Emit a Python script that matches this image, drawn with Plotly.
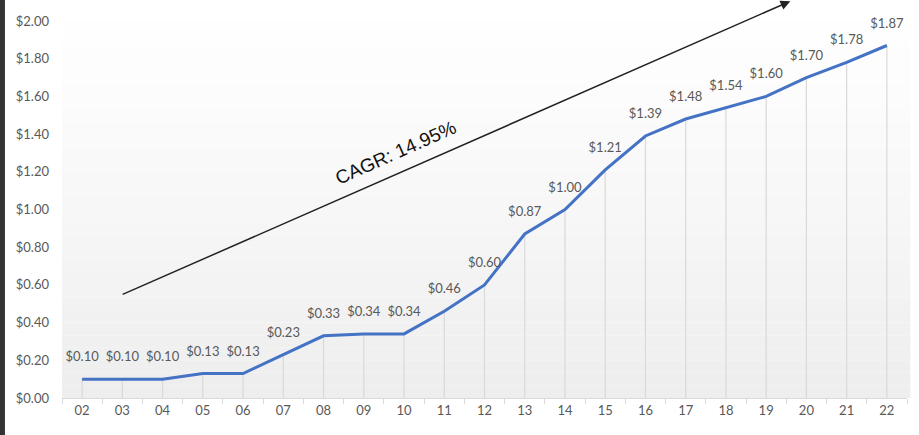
import plotly.graph_objects as go

years = ["02","03","04","05","06","07","08","09","10","11","12","13","14","15","16","17","18","19","20","21","22"]
values = [0.10,0.10,0.10,0.13,0.13,0.23,0.33,0.34,0.34,0.46,0.60,0.87,1.00,1.21,1.39,1.48,1.54,1.60,1.70,1.78,1.87]
labels = ["$%.2f" % v for v in values]
y_ticks = [0.0,0.2,0.4,0.6,0.8,1.0,1.2,1.4,1.6,1.8,2.0]
y_tick_text = ["$%.2f" % v for v in y_ticks]
cagr_text = "CAGR: 14.95%"

fig = go.Figure()
fig.add_trace(go.Scatter(
    x=years, y=values, mode="lines+markers+text", text=labels, textposition="top center",
    textfont=dict(family="Lato", size=13, color="#595959"),
    marker=dict(size=22, color="rgba(0,0,0,0)", line=dict(width=0)),
    line=dict(color="#4472C4", width=3),
    error_y=dict(type="data", symmetric=False, array=[0]*len(values), arrayminus=values,
                 color="#d9d9d9", thickness=1.2, width=0),
    cliponaxis=False, hoverinfo="skip"
))

# gradient background
shapes = []
n = 30
for i in range(n):
    t = i / n
    c = int(255 - 17 * (1 - t) ** 1.2)
    shapes.append(dict(type="rect", xref="paper", yref="paper", x0=0, x1=1.004,
                       y0=i / n, y1=(i + 1) / n, fillcolor="rgb(%d,%d,%d)" % (c, c, c),
                       line=dict(width=0), layer="below"))
# dark left strip
shapes.append(dict(type="rect", xref="paper", yref="paper", x0=-0.0735, x1=-0.0675,
                   y0=-0.1, y1=1.06, fillcolor="#333333", line=dict(width=0)))

fig.update_layout(
    width=919, height=435,
    margin=dict(l=62, r=12, t=21, b=37),
    paper_bgcolor="white", plot_bgcolor="rgba(0,0,0,0)",
    showlegend=False,
    shapes=shapes,
    xaxis=dict(type="category", range=[-0.5, 20.5], showgrid=False, showline=True,
               linecolor="#d9d9d9", linewidth=1, ticks="outside", tickson="boundaries",
               ticklen=5, tickcolor="#d9d9d9",
               tickfont=dict(family="Lato", size=13, color="#595959")),
    yaxis=dict(range=[0, 2.0], tickvals=y_ticks, ticktext=y_tick_text, showgrid=False,
               zeroline=False, showline=False, ticks="", ticklabelstandoff=12,
               tickfont=dict(family="Lato", size=13, color="#595959")),
    annotations=[
        dict(x=17.6, y=2.105, xref="x", yref="y", ax=0.97, ay=0.546, axref="x", ayref="y",
             showarrow=True, arrowhead=2, arrowsize=1.3, arrowwidth=1.5, arrowcolor="#222222",
             text=""),
        dict(x=7.8, y=1.30, xref="x", yref="y", text=cagr_text, showarrow=False,
             textangle=-24, font=dict(family="Liberation Sans", size=19, color="#111111")),
    ],
)

fig.write_html("out.html")
